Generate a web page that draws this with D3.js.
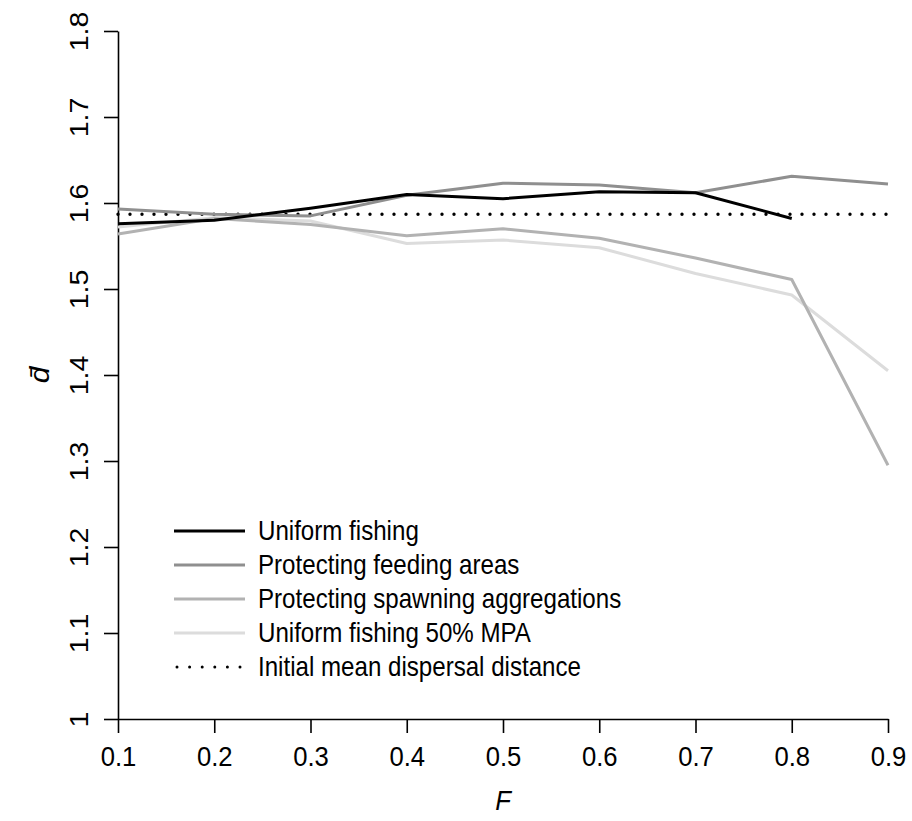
<!DOCTYPE html>
<html>
<head>
<meta charset="utf-8">
<script src="https://cdn.jsdelivr.net/npm/d3@7/dist/d3.min.js"></script>
<style>
  body { margin: 0; background: #fff; }
  svg { display: block; }
  text { font-family: "Liberation Sans", Arial, sans-serif; fill: #000; }
</style>
</head>
<body>
<script>
// Fishing mortality values along the x axis
const fishingF = [0.1, 0.2, 0.3, 0.4, 0.5, 0.6, 0.7, 0.8, 0.9];

// Mean dispersal distance under each management scenario
const uniformFishing     = [1.576, 1.580, 1.594, 1.610, 1.605, 1.613, 1.612, 1.582];
const protectFeeding     = [1.593, 1.587, 1.585, 1.609, 1.623, 1.621, 1.612, 1.631, 1.622];
const protectSpawning    = [1.564, 1.582, 1.575, 1.562, 1.570, 1.559, 1.536, 1.511, 1.295];
const uniformFishingMPA  = [1.572, 1.583, 1.579, 1.553, 1.557, 1.548, 1.518, 1.493, 1.405];
const initialDispersal   = 1.587;

const seriesNames  = ["Uniform fishing", "Protecting feeding areas",
                      "Protecting spawning aggregations", "Uniform fishing 50% MPA"];
const seriesValues = [uniformFishing, protectFeeding, protectSpawning, uniformFishingMPA];
const seriesColors = ["#000000", "#8f8f8f", "#b2b2b2", "#dcdcdc"];
const initialLabel = "Initial mean dispersal distance";

const xTicks = [0.1, 0.2, 0.3, 0.4, 0.5, 0.6, 0.7, 0.8, 0.9];
const yTicks = [1, 1.1, 1.2, 1.3, 1.4, 1.5, 1.6, 1.7, 1.8];

const W = 912, H = 821;
const svg = d3.select("body").append("svg").attr("width", W).attr("height", H);

const x = d3.scaleLinear().domain([0.1, 0.9]).range([118, 888]);
const y = d3.scaleLinear().domain([1, 1.8]).range([719, 31]);

// Text is set in a slightly narrow face
const narrow = 0.9;

// Axes, drawn in the classic style: ticks outward, line spanning the tick range
const fmt = d => (d === 1 ? "1" : d3.format(".1f")(d));

const gx = svg.append("g").attr("transform", `translate(0,${y(1)})`)
  .call(d3.axisBottom(x).tickValues(xTicks).tickFormat(d3.format(".1f"))
        .tickSize(14).tickSizeOuter(0).tickPadding(12));
const gy = svg.append("g").attr("transform", `translate(${x(0.1)},0)`)
  .call(d3.axisLeft(y).tickValues(yTicks).tickFormat(fmt)
        .tickSize(14).tickSizeOuter(0));

[gx, gy].forEach(g => {
  g.select(".domain").attr("stroke", "#000").attr("stroke-width", 1.6);
  g.selectAll(".tick line").attr("stroke", "#000").attr("stroke-width", 1.6);
  g.selectAll("text").attr("font-size", 28.5).attr("font-family", "Liberation Sans, Arial, sans-serif");
});
gx.selectAll(".tick text")
  .attr("y", 0).attr("dy", 0)
  .attr("transform", `translate(0,47) scale(${narrow},1)`);
gy.selectAll(".tick text")
  .attr("x", 0).attr("dy", 0)
  .attr("text-anchor", "middle")
  .attr("transform", `translate(-30,0) scale(${narrow},1) rotate(-90)`);

// Axis titles
svg.append("text")
  .attr("transform", `translate(${(x(0.1) + x(0.9)) / 2},810) scale(${narrow},1)`)
  .attr("text-anchor", "middle").attr("font-size", 28.5).attr("font-style", "italic")
  .text("F");
svg.append("text")
  .attr("transform", `translate(49,${y(1.4)}) scale(${narrow},1) rotate(-90)`)
  .attr("text-anchor", "middle").attr("font-size", 30).attr("font-style", "italic")
  .text("d\u0304");

// Reference level
svg.append("line")
  .attr("x1", x(0.1)).attr("x2", x(0.9))
  .attr("y1", y(initialDispersal)).attr("y2", y(initialDispersal))
  .attr("stroke", "#000").attr("stroke-width", 3.4)
  .attr("stroke-linecap", "round").attr("stroke-dasharray", "0 12");

// Scenario lines, lightest drawn first
const line = d3.line().x((d, i) => x(fishingF[i])).y(d => y(d));
d3.range(seriesValues.length).reverse().forEach(k => {
  svg.append("path")
    .attr("d", line(seriesValues[k]))
    .attr("fill", "none")
    .attr("stroke", seriesColors[k])
    .attr("stroke-width", 3)
    .attr("stroke-linejoin", "round");
});

// Legend
const lg = svg.append("g");
const rowY = i => 531 + i * 34;
const legendText = (label, i) =>
  lg.append("text")
    .attr("transform", `translate(258,${rowY(i)}) scale(${narrow},1)`)
    .attr("dy", "0.35em").attr("font-size", 26.8).text(label);

seriesNames.forEach((name, i) => {
  lg.append("line").attr("x1", 174).attr("x2", 245)
    .attr("y1", rowY(i)).attr("y2", rowY(i))
    .attr("stroke", seriesColors[i]).attr("stroke-width", 3);
  legendText(name, i);
});
lg.append("line").attr("x1", 177).attr("x2", 245)
  .attr("y1", rowY(4)).attr("y2", rowY(4))
  .attr("stroke", "#000").attr("stroke-width", 3)
  .attr("stroke-linecap", "round").attr("stroke-dasharray", "0 12.6");
legendText(initialLabel, 4);
</script>
</body>
</html>
